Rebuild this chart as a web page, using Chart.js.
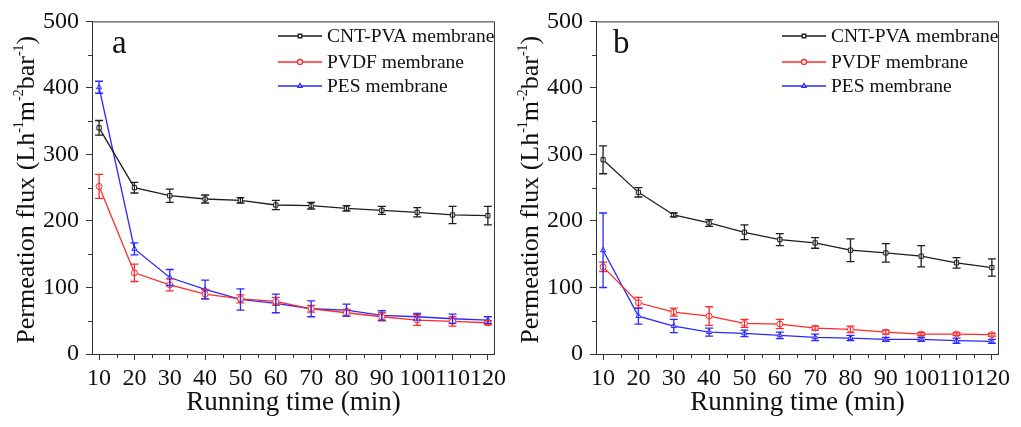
<!DOCTYPE html>
<html>
<head>
<meta charset="utf-8">
<script src="https://cdn.jsdelivr.net/npm/chart.js@4/dist/chart.umd.min.js"></script>
<style>
  html, body { margin: 0; padding: 0; background: #fff; }
  #wrap { position: relative; width: 1021px; height: 427px; overflow: hidden; }
  .panel { position: absolute; top: 0; width: 510px; height: 427px; }
</style>
</head>
<body>
<div id="wrap">
  <div class="panel" style="left:0"><canvas id="chartA"></canvas></div>
  <div class="panel" style="left:504px"><canvas id="chartB"></canvas></div>
</div>
<script>
// running time (min)
const times = [10, 20, 30, 40, 50, 60, 70, 80, 90, 100, 110, 120];
const xTicks = [10, 20, 30, 40, 50, 60, 70, 80, 90, 100, 110, 120];
const yTicks = [0, 100, 200, 300, 400, 500];
const seriesNames = ['CNT-PVA membrane', 'PVDF membrane', 'PES membrane'];

// panel a
const aCnt = [340, 250, 238, 233, 231, 224, 223, 219, 216, 213, 209, 208];
const aCntErr = [11, 8, 10, 6, 4, 7, 5, 4, 6, 7, 13, 14];
const aPvdf = [252, 122, 104, 90, 83, 79, 68, 62, 56, 51, 49, 47];
const aPvdfErr = [18, 13, 9, 7, 6, 6, 5, 5, 6, 8, 7, 3];
const aPes = [401, 158, 115, 97, 82, 76, 68, 66, 58, 56, 53, 51];
const aPesErr = [9, 9, 12, 14, 16, 14, 12, 9, 7, 5, 7, 5];

// panel b
const bCnt = [292, 243, 209, 197, 183, 172, 167, 156, 152, 147, 137, 130];
const bCntErr = [21, 7, 3, 5, 11, 9, 8, 17, 14, 16, 8, 13];
const bPvdf = [131, 77, 63, 57, 46, 45, 39, 37, 33, 30, 30, 29];
const bPvdfErr = [7, 8, 6, 14, 6, 7, 3, 5, 3, 2, 2, 2];
const bPes = [156, 57, 42, 33, 31, 28, 25, 24, 22, 22, 20, 19];
const bPesErr = [56, 12, 10, 6, 5, 5, 5, 4, 3, 3, 4, 3];

const FONT = '"Liberation Serif", "Times New Roman", serif';
const colors = ['#1e1e1e', '#ff2a2a', '#2a2aff'];
const markers = ['rect', 'circle', 'triangle'];
const AXIS = '#333';

function pts(vals) {
    return vals.map((v, i) => ({ x: times[i], y: v }));
}

function makeDatasets(vals, errs) {
    return vals.map((v, i) => ({
        label: seriesNames[i],
        data: pts(v),
        errors: errs[i],
        borderColor: colors[i],
        backgroundColor: '#fff',
        borderWidth: 1.3,
        pointStyle: markers[i],
        pointRadius: 3,
        pointBorderWidth: 1,
        pointBackgroundColor: '#fff',
        pointBorderColor: colors[i],
        tension: 0
    }));
}

const errorBars = {
    id: 'errorBars',
    afterDatasetsDraw(chart) {
        const ctx = chart.ctx;
        const ys = chart.scales.y, xs = chart.scales.x;
        ctx.save();
        chart.data.datasets.forEach(ds => {
            ctx.strokeStyle = ds.borderColor;
            ctx.lineWidth = 1.3;
            ds.data.forEach((p, i) => {
                const e = ds.errors[i];
                const x = xs.getPixelForValue(p.x);
                const y1 = ys.getPixelForValue(p.y + e);
                const y2 = ys.getPixelForValue(p.y - e);
                ctx.beginPath();
                ctx.moveTo(x, y1); ctx.lineTo(x, y2);
                ctx.moveTo(x - 4, y1); ctx.lineTo(x + 4, y1);
                ctx.moveTo(x - 4, y2); ctx.lineTo(x + 4, y2);
                ctx.stroke();
            });
        });
        ctx.restore();
    }
};

const decorations = {
    id: 'decorations',
    afterDraw(chart, args, opts) {
        const ctx = chart.ctx;
        const a = chart.chartArea;
        const xs = chart.scales.x, ys = chart.scales.y;
        ctx.save();
        // frame
        ctx.strokeStyle = AXIS;
        ctx.lineWidth = 1;
        ctx.strokeRect(a.left + 0.5, a.top + 0.5, a.right - a.left - 1, a.bottom - a.top);
        // minor ticks
        ctx.beginPath();
        for (let v = 15; v < 122; v += 10) {
            const x = Math.round(xs.getPixelForValue(v)) + 0.5;
            ctx.moveTo(x, a.bottom); ctx.lineTo(x, a.bottom + 4);
        }
        for (let v = 50; v < 500; v += 100) {
            const y = Math.round(ys.getPixelForValue(v)) + 0.5;
            ctx.moveTo(a.left, y); ctx.lineTo(a.left - 4, y);
        }
        ctx.stroke();

        ctx.fillStyle = '#111';
        // x title
        ctx.font = '27px ' + FONT;
        ctx.textAlign = 'center';
        ctx.textBaseline = 'alphabetic';
        ctx.fillText('Running time (min)', (a.left + a.right) / 2, 410);

        // y title with superscripts
        const parts = [['Permeation flux (Lh', 0], ['-1', 1], ['m', 0], ['-2', 1], ['bar', 0], ['-1', 1], [')', 0]];
        const big = '26px ' + FONT, small = '14px ' + FONT;
        let total = 0;
        parts.forEach(p => { ctx.font = p[1] ? small : big; total += ctx.measureText(p[0]).width; });
        ctx.translate(34, (a.top + a.bottom) / 2 + 2);
        ctx.rotate(-Math.PI / 2);
        ctx.textAlign = 'left';
        let cx = -total / 2;
        parts.forEach(p => {
            ctx.font = p[1] ? small : big;
            ctx.fillText(p[0], cx, p[1] ? -11 : 0);
            cx += ctx.measureText(p[0]).width;
        });
        ctx.setTransform(1, 0, 0, 1, 0, 0);
        const dpr = chart.currentDevicePixelRatio || 1;
        ctx.scale(dpr, dpr);

        // panel letter
        ctx.font = '33px ' + FONT;
        ctx.textAlign = 'left';
        ctx.fillText(opts.letter, opts.letterX, 53);

        // legend
        const rows = [36, 62, 86];
        chart.data.datasets.forEach((ds, i) => {
            const y = rows[i];
            ctx.strokeStyle = ds.borderColor;
            ctx.lineWidth = 1.3;
            ctx.beginPath();
            ctx.moveTo(278, y); ctx.lineTo(322, y);
            ctx.stroke();
            ctx.fillStyle = '#fff';
            Chart.helpers.drawPoint(ctx, { pointStyle: ds.pointStyle, radius: 2.5, borderWidth: 1, rotation: 0 }, 300, y);
            ctx.fillStyle = '#111';
            ctx.font = '19.5px ' + FONT;
            ctx.textBaseline = 'middle';
            ctx.fillText(ds.label, 327, y + 1);
        });
        ctx.restore();
    }
};

function makeChart(id, letter, letterX, vals, errs) {
    const ctx = document.getElementById(id).getContext('2d');
    return new Chart(ctx, {
        type: 'line',
        data: { datasets: makeDatasets(vals, errs) },
        plugins: [errorBars, decorations],
        options: {
            responsive: true,
            maintainAspectRatio: false,
            animation: false,
            layout: { padding: { top: 20, right: 7, left: 0, bottom: 0 } },
            plugins: {
                legend: { display: false },
                tooltip: { enabled: false },
                decorations: { letter: letter, letterX: letterX }
            },
            scales: {
                x: {
                    type: 'linear',
                    min: 8,
                    max: 122,
                    afterBuildTicks: s => { s.ticks = xTicks.map(v => ({ value: v })); },
                    afterFit: s => { s.height = 73; },
                    grid: { drawOnChartArea: false, drawTicks: true, tickLength: 6, color: AXIS },
                    border: { display: true, color: AXIS },
                    ticks: {
                        autoSkip: false, maxRotation: 0, padding: 4,
                        color: '#111', font: { family: FONT, size: 24 }
                    }
                },
                y: {
                    type: 'linear',
                    min: 0,
                    max: 500,
                    afterBuildTicks: s => { s.ticks = yTicks.map(v => ({ value: v })); },
                    afterFit: s => { s.width = 92; },
                    grid: { drawOnChartArea: false, drawTicks: true, tickLength: 6, color: AXIS },
                    border: { display: true, color: AXIS },
                    ticks: {
                        padding: 7,
                        color: '#111', font: { family: FONT, size: 24 }
                    }
                }
            }
        }
    });
}

makeChart('chartA', 'a', 112, [aCnt, aPvdf, aPes], [aCntErr, aPvdfErr, aPesErr]);
makeChart('chartB', 'b', 109, [bCnt, bPvdf, bPes], [bCntErr, bPvdfErr, bPesErr]);
</script>
</body>
</html>
